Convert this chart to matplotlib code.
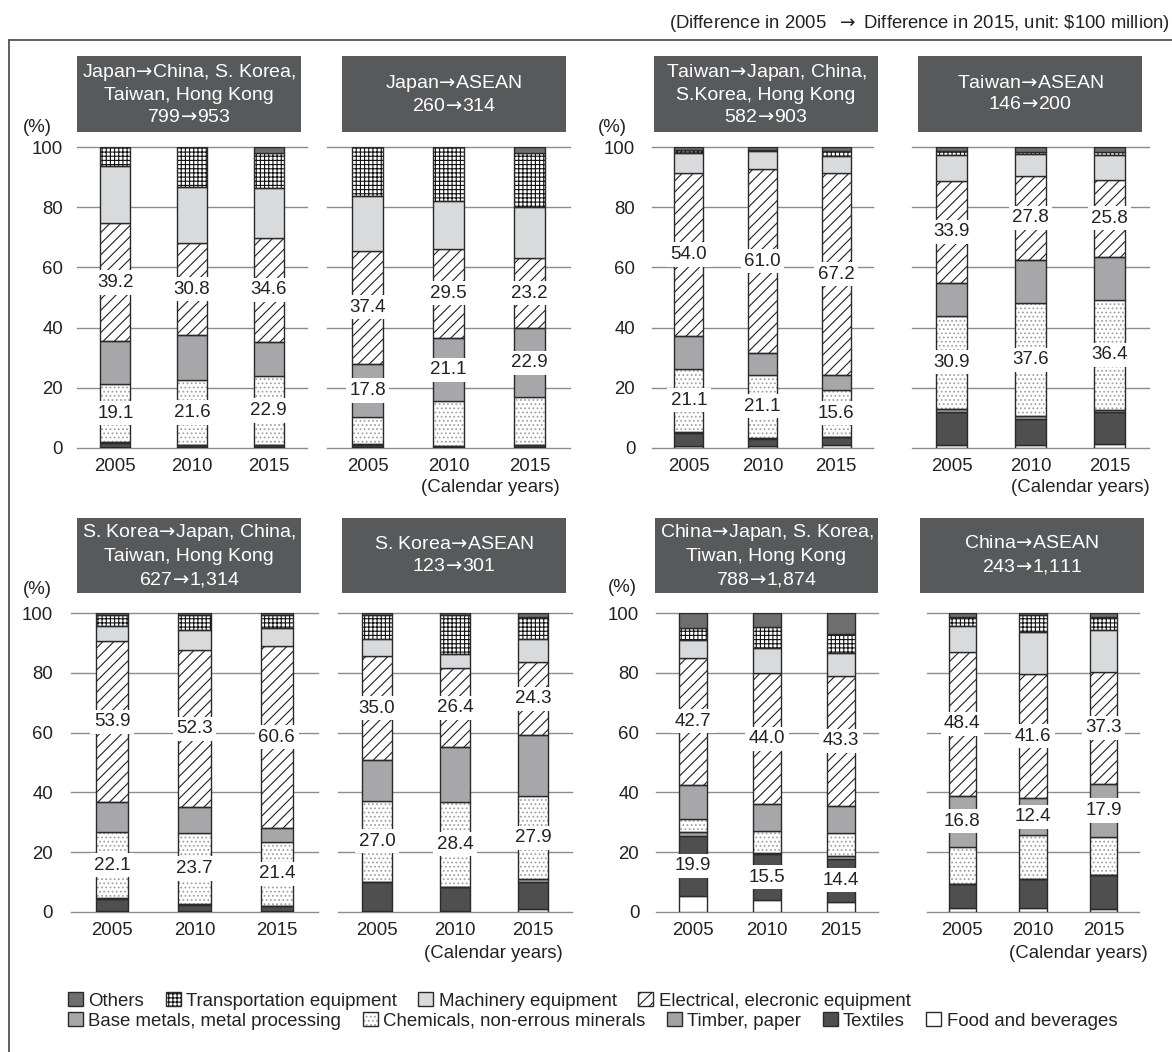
import matplotlib
matplotlib.use('Agg')
import matplotlib.pyplot as plt
from matplotlib.patches import Rectangle, Patch
from matplotlib.lines import Line2D
import numpy as np

plt.rcParams['font.family'] = ['Liberation Sans', 'DejaVu Sans']
plt.rcParams['mathtext.fontset'] = 'dejavusans'
plt.rcParams['hatch.linewidth'] = 0.8

W, H, DPI = 1172, 1052, 100

years = ['2005', '2010', '2015']
categories = ['Food and beverages', 'Textiles', 'Timber, paper',
              'Chemicals, non-errous minerals', 'Base metals, metal processing',
              'Electrical, elecronic equipment', 'Machinery equipment',
              'Transportation equipment', 'Others']

# rows: categories (Food ... Others), columns: 2005, 2010, 2015  (%)
japan_east = [[0.3, 0.2, 0.2], [1.5, 0.7, 0.7], [0.2, 0.1, 0.1],
              [19.1, 21.6, 22.9], [14.3, 14.8, 11.3], [39.2, 30.8, 34.6],
              [19.0, 18.5, 16.6], [6.4, 13.3, 11.6], [0.0, 0.0, 2.0]]
japan_asean = [[0.3, 0.2, 0.3], [0.8, 0.2, 0.7], [0.1, 0.1, 0.1],
               [9.0, 15.0, 15.8], [17.8, 21.1, 22.9], [37.4, 29.5, 23.2],
               [18.2, 16.0, 17.0], [16.4, 17.9, 18.0], [0.0, 0.0, 2.0]]
taiwan_east = [[0.6, 0.5, 1.0], [4.5, 2.6, 2.6], [0.2, 0.2, 0.2],
               [21.1, 21.1, 15.6], [10.9, 7.2, 4.8], [54.0, 61.0, 67.2],
               [6.6, 6.1, 5.5], [1.1, 0.4, 1.7], [1.0, 0.9, 1.4]]
taiwan_asean = [[1.0, 1.0, 1.4], [10.8, 8.6, 10.5], [1.3, 0.9, 0.8],
                [30.9, 37.6, 36.4], [10.9, 14.5, 14.3], [33.9, 27.8, 25.8],
                [8.7, 7.2, 8.1], [1.2, 0.8, 1.2], [1.3, 1.6, 1.5]]
korea_east = [[0.5, 0.5, 0.5], [3.9, 2.0, 1.4], [0.2, 0.2, 0.2],
              [22.1, 23.7, 21.4], [10.0, 8.8, 4.7], [53.9, 52.3, 60.6],
              [5.0, 6.9, 6.2], [3.8, 5.0, 4.4], [0.6, 0.6, 0.6]]
korea_asean = [[0.3, 0.2, 1.0], [9.8, 8.2, 9.2], [0.1, 0.1, 0.7],
               [27.0, 28.4, 27.9], [13.5, 18.2, 20.4], [35.0, 26.4, 24.3],
               [5.6, 4.8, 7.8], [8.1, 13.1, 7.5], [0.6, 0.6, 1.2]]
china_east = [[5.5, 3.9, 3.4], [19.9, 15.5, 14.4], [1.4, 0.3, 1.0],
              [4.3, 7.4, 7.6], [11.3, 8.9, 9.2], [42.7, 44.0, 43.3],
              [5.8, 8.2, 7.6], [4.0, 7.2, 6.5], [5.1, 4.6, 7.0]]
china_asean = [[1.3, 1.3, 1.1], [8.0, 9.6, 11.2], [0.2, 0.2, 0.2],
               [12.4, 14.5, 12.5], [16.8, 12.4, 17.9], [48.4, 41.6, 37.3],
               [8.4, 14.1, 14.0], [3.2, 5.6, 4.3], [1.3, 0.7, 1.5]]

ARW = r'$\!\rightarrow\!$'
titles = [f"Japan{ARW}China, S. Korea,\nTaiwan, Hong Kong\n799{ARW}953",
          f"Japan{ARW}ASEAN\n260{ARW}314",
          f"Taiwan{ARW}Japan, China,\nS.Korea, Hong Kong\n582{ARW}903",
          f"Taiwan{ARW}ASEAN\n146{ARW}200",
          f"S. Korea{ARW}Japan, China,\nTaiwan, Hong Kong\n627{ARW}1,314",
          f"S. Korea{ARW}ASEAN\n123{ARW}301",
          f"China{ARW}Japan, S. Korea,\nTiwan, Hong Kong\n788{ARW}1,874",
          f"China{ARW}ASEAN\n243{ARW}1,111"]
panel_data = [japan_east, japan_asean, taiwan_east, taiwan_asean,
              korea_east, korea_asean, china_east, china_asean]
# which categories carry value labels (lower label, upper label)
label_rows = [(3, 5), (4, 5), (3, 5), (3, 5), (3, 5), (3, 5), (1, 5), (4, 5)]

# styles per category
face = ['white', '#4f4f4f', '#a3a3a3', 'white', '#a7a7a9', 'white', '#d9dadb', 'white', '#6e6e6e']
hatch = [None, None, None, '....', None, '///', None, '++++', None]
hcol = [None, None, None, '#a2a2a2', None, '#222222', None, '#111111', None]
EDGE = '#2a2a2a'
TXT = '#222222'
FS = 13.4

fig = plt.figure(figsize=(W / DPI, H / DPI), dpi=DPI)


def fx(px):
    return px / W


def fy(py):
    return 1 - py / H


# pixel layout: (x0, x1, ytop, ybottom)
axes_px = [(77, 307, 147, 448), (327, 570, 147, 448), (652, 873, 147, 448), (912, 1149, 147, 448),
           (71, 318, 613, 912), (338, 572, 613, 912), (656, 878, 613, 912), (927, 1139, 613, 912)]
title_px = [(77, 301, 56, 132), (342, 566, 56, 132), (654, 878, 56, 132), (918, 1142, 56, 132),
            (77, 301, 518, 593), (342, 566, 518, 593), (655, 878, 518, 593), (920, 1144, 518, 593)]
ylab_pad = [10, None, 12, None, 13, None, 12, None]
pct_pos = [(37, 127), None, (612, 127), None, (37, 590), None, (622, 588), None]
cal_pos = [None, (490, 488), None, (1080, 488), None, (493, 953), None, (1078, 953)]

for k in range(8):
    x0, x1, yt, yb = axes_px[k]
    ax = fig.add_axes([fx(x0), fy(yb), (x1 - x0) / W, (yb - yt) / H])
    ax.set_xlim(-0.5, 2.5)
    ax.set_ylim(0, 100)
    for s in ax.spines.values():
        s.set_visible(False)
    for g in range(0, 101, 20):
        ax.axhline(g, color='#8c8c8c', lw=1.0, zorder=0, clip_on=False)
    data = np.array(panel_data[k], dtype=float)
    x = np.arange(3)
    bottom = np.zeros(3)
    for c in range(len(categories)):
        vals = data[c]
        if hatch[c]:
            ax.bar(x, vals, 0.39, bottom=bottom, color=face[c], hatch=hatch[c],
                   edgecolor=hcol[c], linewidth=0, zorder=2)
            ax.bar(x, vals, 0.39, bottom=bottom, fill=False, edgecolor=EDGE,
                   linewidth=1.0, zorder=3)
        else:
            ax.bar(x, vals, 0.39, bottom=bottom, color=face[c], edgecolor=EDGE,
                   linewidth=1.0, zorder=3)
        bottom = bottom + vals
    # value labels
    cum = np.cumsum(data, axis=0)
    for r in label_rows[k]:
        for i in range(3):
            top = cum[r, i]
            bot = top - data[r, i]
            ax.text(i, (top + bot) / 2, f'{data[r, i]:.1f}', ha='center', va='center',
                    fontsize=13.5, color=TXT, zorder=6,
                    bbox=dict(facecolor='white', edgecolor='none', pad=2.5))
    ax.set_xticks(x)
    ax.set_xticklabels(years, fontsize=FS, color=TXT)
    ax.set_yticks(range(0, 101, 20))
    if ylab_pad[k] is not None:
        ax.tick_params(axis='y', length=0, pad=ylab_pad[k], labelsize=FS, labelcolor=TXT)
    else:
        ax.tick_params(axis='y', length=0, labelleft=False)
    ax.tick_params(axis='x', length=0, pad=7)

    # title box
    tx0, tx1, ty0, ty1 = title_px[k]
    fig.add_artist(Rectangle((fx(tx0), fy(ty1)), (tx1 - tx0) / W, (ty1 - ty0) / H,
                             transform=fig.transFigure, facecolor='#58595b',
                             edgecolor='none'))
    fig.text(fx((tx0 + tx1) / 2), fy((ty0 + ty1) / 2), titles[k], ha='center',
             va='center', color='white', fontsize=14, linespacing=1.35)
    if pct_pos[k]:
        fig.text(fx(pct_pos[k][0]), fy(pct_pos[k][1]), '(%)', ha='center', va='center',
                 fontsize=FS, color=TXT)
    if cal_pos[k]:
        fig.text(fx(cal_pos[k][0]), fy(cal_pos[k][1]), '(Calendar years)', ha='center',
                 va='center', fontsize=FS, color=TXT)

# header and frame
fig.text(fx(1170), fy(23), '(Difference in 2005  $\\rightarrow$ Difference in 2015, unit: \\$100 million)',
         ha='right', va='center', fontsize=13.3, color=TXT)
fig.add_artist(Line2D([fx(9), 1.0], [fy(40), fy(40)], transform=fig.transFigure,
                      color='#555555', lw=1.3))
fig.add_artist(Line2D([fx(9), fx(9)], [fy(40), 0.0], transform=fig.transFigure,
                      color='#555555', lw=1.3))


def handle(c):
    if hatch[c]:
        return (Patch(facecolor=face[c], hatch=hatch[c], edgecolor=hcol[c], linewidth=0),
                Patch(fill=False, edgecolor=EDGE, linewidth=1.0))
    return Patch(facecolor=face[c], edgecolor=EDGE, linewidth=1.0)


row1 = [8, 7, 6, 5]
row2 = [4, 3, 2, 1, 0]
for row, ypx in ((row1, 1001), (row2, 1021)):
    fig.legend([handle(c) for c in row], [categories[c] for c in row],
               loc='center left', bbox_to_anchor=(fx(68), fy(ypx)), ncol=len(row),
               frameon=False, fontsize=FS, handlelength=0.8, handleheight=0.8,
               handletextpad=0.3, columnspacing=1.15, borderpad=0, borderaxespad=0,
               labelcolor=TXT)

fig.savefig('out.png', dpi=DPI)
